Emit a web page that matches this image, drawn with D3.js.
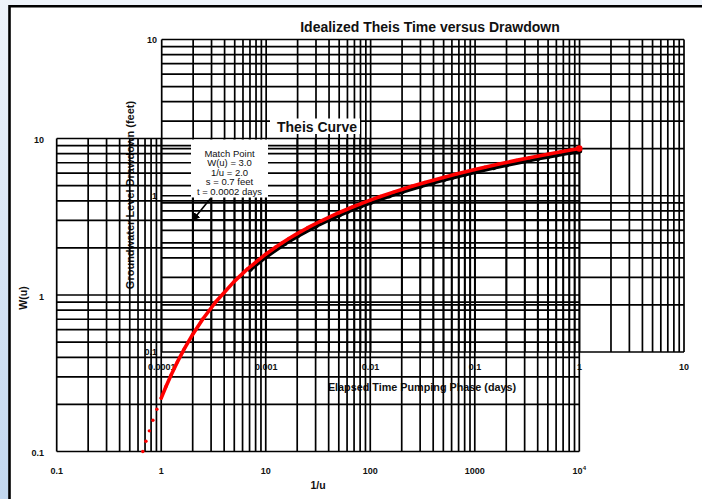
<!DOCTYPE html>
<html>
<head>
<meta charset="utf-8">
<script src="https://cdn.jsdelivr.net/npm/d3@7"></script>
<style>
  html, body { margin: 0; padding: 0; background: #eef3fa; }
  svg { display: block; font-family: "Liberation Sans", Arial, sans-serif; }
</style>
</head>
<body>
<svg id="chart" width="702" height="499"></svg>
<script>
// Theis type curve: 1/u against the well function W(u)
const typeInvU = [0.6667, 0.7143, 0.7692, 0.8333, 0.9091, 1, 1.111, 1.25, 1.429, 1.667, 2, 2.5, 3.333, 5, 6.667,
  10, 12.5, 14.29, 16.67, 20, 25, 33.33, 50, 66.67, 100, 125, 166.7, 200, 250, 333.3, 500, 666.7,
  1000, 1250, 1667, 2000, 2500, 3333, 5000, 6667, 10000];
const typeW = [0.1000, 0.1162, 0.1355, 0.1584, 0.1860, 0.2194, 0.2602, 0.3106, 0.3738, 0.4544, 0.5598, 0.7024, 0.9057, 1.2227, 1.4645,
  1.8229, 2.0269, 2.1508, 2.2953, 2.4679, 2.6813, 2.9591, 3.3547, 3.6374, 4.0379, 4.2591, 4.5448, 4.7261, 4.9482, 5.2349, 5.6394, 5.9266,
  6.3315, 6.5545, 6.8420, 7.0242, 7.2472, 7.5348, 7.9402, 8.2278, 8.6332];

// Drawdown observed during the pumping phase
const timeDays = [0.0007, 0.001, 0.0015, 0.002, 0.003, 0.004, 0.005, 0.006, 0.008, 0.01, 0.015, 0.02, 0.03, 0.04,
  0.05, 0.06, 0.08, 0.1, 0.15, 0.2, 0.3, 0.4, 0.5, 0.6, 0.8, 1.0];
const drawdownFt = [0.339, 0.4105, 0.4946, 0.5558, 0.6434, 0.7063, 0.7555, 0.7958, 0.8597, 0.9093, 1.000, 1.0643, 1.1553, 1.2199,
  1.2700, 1.311, 1.3757, 1.4259, 1.5171, 1.5818, 1.6731, 1.7379, 1.7881, 1.8292, 1.894, 1.9442];

// Tick labels
const typeXTicks = [0.1, 1, 10, 100, 1000, 10000];
const typeXLabels = ["0.1", "1", "10", "100", "1000", "10^4"];
const typeYTicks = [0.1, 1, 10];
const typeYLabels = ["0.1", "1", "10"];
const timeTicks = [0.0001, 0.001, 0.01, 0.1, 1, 10];
const timeLabels = ["0.0001", "0.001", "0.01", "0.1", "1", "10"];
const drawTicks = [0.1, 1, 10];
const drawLabels = ["0.1", "1", "10"];

// Match point between the two sheets
const matchInvU = 2.0, matchW = 3.0;
const matchText = ["Match Point", "W(u) = 3.0", "1/u = 2.0", "s = 0.7 feet", "t = 0.0002 days"];

const svg = d3.select("#chart");

// page backdrop and frame
const defs = svg.append("defs");
const grad = defs.append("linearGradient").attr("id", "edge").attr("x1", 0).attr("y1", 0).attr("x2", 0).attr("y2", 1);
grad.append("stop").attr("offset", "0%").attr("stop-color", "#eef3fa");
grad.append("stop").attr("offset", "100%").attr("stop-color", "#c2d7ef");
svg.append("rect").attr("width", 702).attr("height", 499).attr("fill", "#eef3fa");
svg.append("rect").attr("x", 0).attr("y", 0).attr("width", 9).attr("height", 499).attr("fill", "url(#edge)");
svg.append("rect").attr("x", 9).attr("y", 6).attr("width", 693).attr("height", 493).attr("fill", "#fff");
svg.append("path").attr("d", "M9.5,499V6.2H702").attr("fill", "none").attr("stroke", "#000").attr("stroke-width", 2.6);

// scales: type curve sheet and field data sheet
const xType = d3.scaleLog().domain([0.1, 1e4]).range([56.7, 579.3]);
const yType = d3.scaleLog().domain([0.1, 10]).range([451.5, 138.5]);
const xTime = d3.scaleLog().domain([1e-4, 10]).range([161.7, 684]);
const yDraw = d3.scaleLog().domain([0.1, 10]).range([352, 39.5]);

const labels = svg.append("g").attr("font-weight", "bold").attr("fill", "#111");

// field data sheet labels (sit beneath the grid lines)
labels.selectAll(".tl").data(timeTicks).join("text")
  .attr("x", d => xTime(d)).attr("y", 369.5).attr("text-anchor", "middle").attr("font-size", 9)
  .text((d, i) => timeLabels[i]);
labels.selectAll(".dl").data(drawTicks).join("text")
  .attr("x", 157).attr("y", d => yDraw(d) + 3.3).attr("text-anchor", "end").attr("font-size", 9)
  .text((d, i) => drawLabels[i]);
labels.append("text").attr("x", 422).attr("y", 391).attr("text-anchor", "middle").attr("font-size", 10.8)
  .text("Elapsed Time Pumping Phase (days)");
labels.append("text").attr("transform", "translate(134,195) rotate(-90)").attr("text-anchor", "middle").attr("font-size", 11)
  .text("Groundwater Level Drawdown (feet)");

// type curve sheet labels
labels.selectAll(".xl").data(typeXTicks).join("text")
  .attr("x", d => xType(d)).attr("y", 473.5).attr("text-anchor", "middle").attr("font-size", 9)
  .each(function (d, i) {
    const t = d3.select(this), lab = typeXLabels[i];
    if (lab.includes("^")) {
      const [b, e] = lab.split("^");
      t.append("tspan").text(b);
      t.append("tspan").attr("dy", -4).attr("font-size", 6).text(e);
    } else t.text(lab);
  });
labels.selectAll(".yl").data(typeYTicks).join("text")
  .attr("x", 44).attr("y", d => yType(d) + 4.5).attr("text-anchor", "end").attr("font-size", 9)
  .text((d, i) => typeYLabels[i]);
labels.append("text").attr("x", 318).attr("y", 489).attr("text-anchor", "middle").attr("font-size", 10.5).text("1/u");
labels.append("text").attr("transform", "translate(27,298) rotate(-90)").attr("text-anchor", "middle").attr("font-size", 10.5).text("W(u)");
labels.append("text").attr("x", 430).attr("y", 32).attr("text-anchor", "middle").attr("font-size", 14).text("Idealized Theis Time versus Drawdown");

// log-cycle grids
function grid(x, y) {
  const g = svg.append("g").attr("stroke", "#000").attr("stroke-width", 1.7).attr("fill", "none");
  const [x0, x1] = x.range(), [y0, y1] = y.range();
  g.selectAll(".v").data(x.ticks()).join("line")
    .attr("x1", d => x(d)).attr("x2", d => x(d)).attr("y1", y0).attr("y2", y1);
  g.selectAll(".h").data(y.ticks()).join("line")
    .attr("y1", d => y(d)).attr("y2", d => y(d)).attr("x1", x0).attr("x2", x1);
}
grid(xTime, yDraw);
grid(xType, yType);

// curve name
svg.append("rect").attr("x", 270).attr("y", 118.5).attr("width", 90).attr("height", 15.5).attr("fill", "#fff");
svg.append("text").attr("x", 277).attr("y", 131.5).attr("font-size", 14).attr("font-weight", "bold").attr("fill", "#111").text("Theis Curve");

// match point note
svg.append("rect").attr("x", 191).attr("y", 139.5).attr("width", 77).attr("height", 58).attr("fill", "#fff");
svg.append("g").attr("font-size", 9.5).attr("text-anchor", "middle").attr("fill", "#111")
  .selectAll("text").data(matchText).join("text")
  .attr("x", 229.5).attr("y", (d, i) => 156.5 + i * 9.5).text(d => d);

// field drawdown data
const drawLine = d3.line().x((d, i) => xTime(timeDays[i])).y((d, i) => yDraw(drawdownFt[i]));
svg.append("path").datum(timeDays).attr("d", drawLine)
  .attr("fill", "none").attr("stroke", "#000").attr("stroke-width", 4.8).attr("stroke-linejoin", "round").attr("stroke-linecap", "round");
svg.append("g").selectAll("circle").data(timeDays).join("circle")
  .attr("cx", d => xTime(d)).attr("cy", (d, i) => yDraw(drawdownFt[i])).attr("r", 2.7).attr("fill", "#000");

// Theis type curve
const typeIdx = d3.range(typeInvU.length);
const typeLine = d3.line().x(i => xType(typeInvU[i])).y(i => yType(typeW[i]));
svg.append("path").datum(typeIdx.filter(i => typeInvU[i] >= 1)).attr("d", typeLine)
  .attr("fill", "none").attr("stroke", "#f00").attr("stroke-width", 3.6).attr("stroke-linejoin", "round").attr("stroke-linecap", "round");
svg.append("g").selectAll("circle").data(typeIdx).join("circle")
  .attr("cx", i => xType(typeInvU[i])).attr("cy", i => yType(typeW[i]))
  .attr("r", i => i === typeIdx.length - 1 ? 3.2 : 1.7).attr("fill", "#f00");

// pointer from the note to the match point
defs.append("marker").attr("id", "head").attr("viewBox", "0 0 10 10").attr("refX", 9).attr("refY", 5)
  .attr("markerWidth", 5).attr("markerHeight", 5).attr("orient", "auto")
  .append("path").attr("d", "M0,0L10,5L0,10z").attr("fill", "#000");
svg.append("line").attr("x1", 210.5).attr("y1", 198.5)
  .attr("x2", xType(matchInvU)).attr("y2", yType(matchW))
  .attr("stroke", "#000").attr("stroke-width", 1.6).attr("marker-end", "url(#head)");
</script>
</body>
</html>
